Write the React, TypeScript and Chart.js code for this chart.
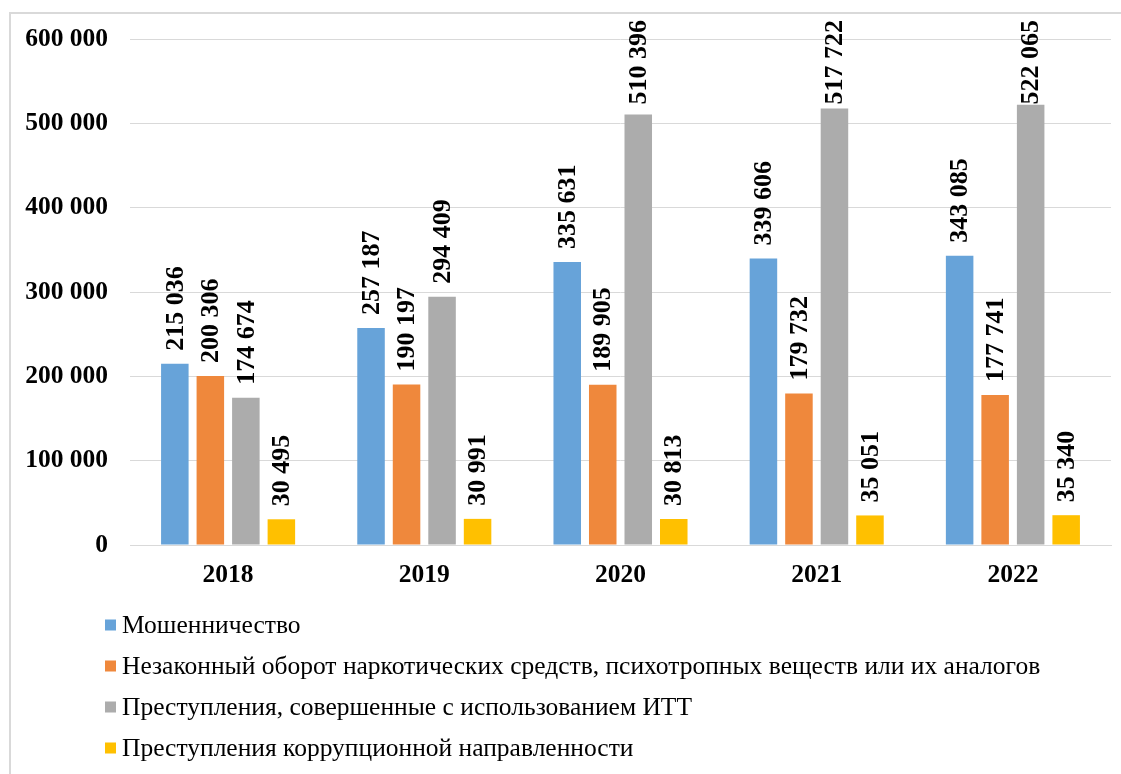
import React, { useEffect, useRef } from "react";
import { Chart, registerables } from "chart.js";

Chart.register(...registerables);

const categories = ["2018", "2019", "2020", "2021", "2022"];
const seriesNames = [
  "Мошенничество",
  "Незаконный оборот наркотических средств, психотропных веществ или их аналогов",
  "Преступления, совершенные с использованием ИТТ",
  "Преступления коррупционной направленности",
];
const fraud = [215036, 257187, 335631, 339606, 343085];
const drugs = [200306, 190197, 189905, 179732, 177741];
const itt = [174674, 294409, 510396, 517722, 522065];
const corruption = [30495, 30991, 30813, 35051, 35340];
const seriesColors = ["#67a3d9", "#ef883c", "#acacac", "#ffc000"];
const yMin = 0;
const yMax = 600000;
const yStep = 100000;

const FONT = "'Liberation Serif', 'Times New Roman', serif";

const fmt = (n: number) =>
  Math.round(n)
    .toString()
    .replace(/\B(?=(\d{3})+(?!\d))/g, " ");

const labelsPlugin = {
  id: "barLabels",
  afterDraw(chart: any) {
    const ctx = chart.ctx;
    ctx.save();
    ctx.font = `bold 26px ${FONT}`;
    ctx.fillStyle = "#000";
    ctx.textAlign = "left";
    ctx.textBaseline = "middle";
    chart.data.datasets.forEach((ds: any, di: number) => {
      const meta = chart.getDatasetMeta(di);
      meta.data.forEach((el: any, i: number) => {
        const text = fmt(ds.data[i]);
        const w = ctx.measureText(text).width;
        let start = el.y - 13;
        if (start - w < 20) start = 20 + w;
        ctx.save();
        ctx.translate(el.x, start);
        ctx.rotate(-Math.PI / 2);
        ctx.fillText(text, 0, 1);
        ctx.restore();
      });
    });
    ctx.restore();
  },
};

const legendPlugin = {
  id: "listLegend",
  afterDraw(chart: any) {
    const ctx = chart.ctx;
    const top = chart.chartArea.bottom;
    ctx.save();
    ctx.font = `25.5px ${FONT}`;
    ctx.textAlign = "left";
    ctx.textBaseline = "middle";
    chart.data.datasets.forEach((ds: any, i: number) => {
      const y = top + 80 + i * 41;
      ctx.fillStyle = ds.backgroundColor;
      ctx.fillRect(105, y - 5.5, 11, 11);
      ctx.fillStyle = "#000";
      ctx.fillText(ds.label, 122, y + 1);
    });
    ctx.restore();
  },
};

export default function App() {
  const ref = useRef<HTMLCanvasElement>(null);

  useEffect(() => {
    if (!ref.current) return;
    const series = [fraud, drugs, itt, corruption];
    const chart = new Chart(ref.current, {
      type: "bar",
      data: {
        labels: categories,
        datasets: series.map((d, i) => ({
          label: seriesNames[i],
          data: d,
          backgroundColor: seriesColors[i],
          borderWidth: 0,
          categoryPercentage: 0.724,
          barPercentage: 0.775,
        })),
      },
      options: {
        responsive: false,
        animation: false,
        devicePixelRatio: 1,
        layout: { padding: { left: 0, right: 10, top: 39, bottom: 169 } },
        plugins: {
          legend: { display: false },
          tooltip: { enabled: false },
        },
        scales: {
          x: {
            grid: { display: false, drawTicks: false },
            border: { display: true, color: "#d9d9d9", width: 1 },
            ticks: {
              font: { family: FONT, size: 25.5, weight: "bold" },
              color: "#000",
              padding: 15,
            },
            afterFit: (s: any) => {
              s.height = 60;
            },
          },
          y: {
            min: yMin,
            max: yMax,
            grid: { color: "#d9d9d9", lineWidth: 1, drawTicks: false },
            border: { display: false },
            ticks: {
              stepSize: yStep,
              font: { family: FONT, size: 25.5, weight: "bold" },
              color: "#000",
              padding: 22,
              callback: (v: any) => fmt(Number(v)),
            },
            afterFit: (s: any) => {
              s.width = 130;
            },
          },
        },
      },
      plugins: [labelsPlugin, legendPlugin],
    });
    return () => chart.destroy();
  }, []);

  return (
    <>
      <div
        style={{
          position: "fixed",
          left: 9,
          top: 12,
          width: 1130,
          height: 800,
          borderTop: "2px solid #d9d9d9",
          borderLeft: "2px solid #d9d9d9",
          pointerEvents: "none",
        }}
      />
      <canvas
        ref={ref}
        width={1121}
        height={774}
        style={{ position: "fixed", left: 0, top: 0, width: 1121, height: 774 }}
      />
    </>
  );
}
